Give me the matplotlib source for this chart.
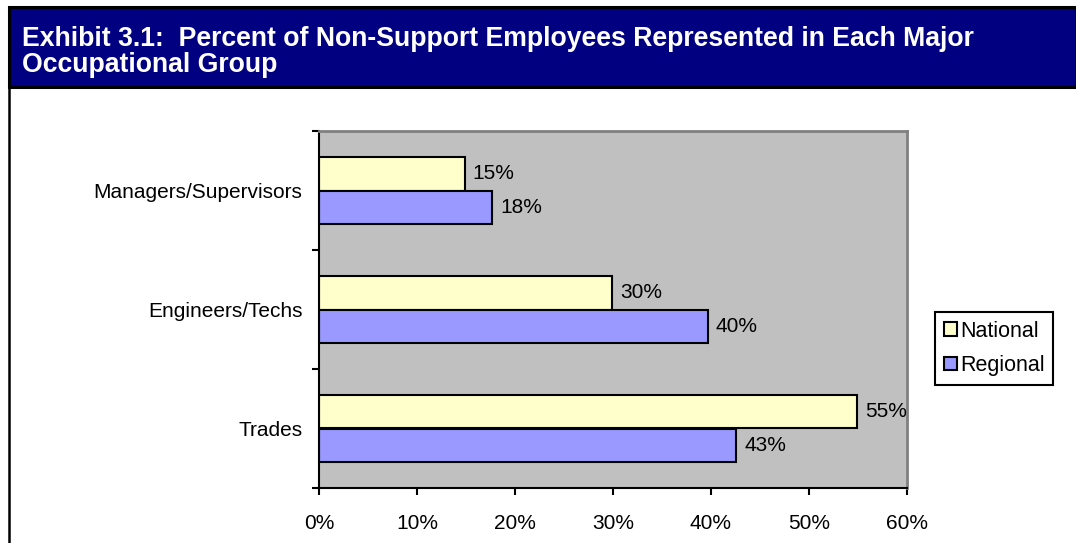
import matplotlib.pyplot as plt
from matplotlib.patches import Rectangle
from matplotlib.lines import Line2D
import numpy as np

plt.rcParams['font.family'] = ['Liberation Sans', 'DejaVu Sans']

# Share of non-support employees by group
groups = ['Managers/Supervisors', 'Engineers/Techs', 'Trades']
national = [0.149, 0.299, 0.549]
regional = [0.177, 0.397, 0.426]
series_names = ['National', 'Regional']
xticks = [0, 0.1, 0.2, 0.3, 0.4, 0.5, 0.6]

W, H = 1076, 543
fig = plt.figure(figsize=(W / 100, H / 100), dpi=100)

# title banner and frame
fig.patches.append(Rectangle((8.5 / W, (H - 86.5) / H), 1 - 8.5 / W, 80 / H,
                             transform=fig.transFigure, facecolor='#000080',
                             edgecolor='black', linewidth=2.2))
fig.lines.append(Line2D([8.5 / W, 8.5 / W], [0, (H - 86.5) / H],
                        transform=fig.transFigure, color='black', linewidth=1.8))
fig.text(22 / W, (H - 52) / H,
         'Exhibit 3.1:  Percent of Non-Support Employees Represented in Each Major\nOccupational Group',
         color='white', fontsize=19.2, fontweight='bold', va='center', ha='left',
         linespacing=1.03)

ax = fig.add_axes([319 / W, (H - 488) / H, (907 - 319) / W, (488 - 131) / H])
ax.set_facecolor('#C0C0C0')

y = np.arange(len(groups))
bh = 0.28
b1 = ax.barh(y - bh / 2, national, height=bh, color='#FFFFCC', edgecolor='black',
             linewidth=1.5, label=series_names[0])
b2 = ax.barh(y + bh / 2, regional, height=bh, color='#9999FF', edgecolor='black',
             linewidth=1.5, label=series_names[1])

for bars, vals in ((b1, national), (b2, regional)):
    for rect, v in zip(bars, vals):
        ax.text(v + 0.008, rect.get_y() + rect.get_height() / 2, f'{v:.0%}',
                va='center', ha='left', fontsize=15, clip_on=False)

ax.set_xlim(0, 0.6)
ax.set_ylim(len(groups) - 0.5, -0.5)
ax.set_xticks(xticks)
ax.set_xticklabels([f'{t:.0%}' for t in xticks], fontsize=15)
ax.tick_params(axis='x', direction='out', length=5, width=1.5, pad=13.5)

ax.set_yticks(y)
ax.set_yticklabels(groups, fontsize=15)
ax.tick_params(axis='y', which='major', length=0, pad=12)
ax.set_yticks(np.arange(len(groups) + 1) - 0.5, minor=True)
ax.tick_params(axis='y', which='minor', direction='out', length=5, width=1.5)

for side in ('left', 'bottom'):
    ax.spines[side].set_color('black')
    ax.spines[side].set_linewidth(1.5)
for side in ('right', 'top'):
    ax.spines[side].set_color('#808080')
    ax.spines[side].set_linewidth(2)

leg = fig.legend(handles=[b1, b2], loc='upper left',
                 bbox_to_anchor=(935 / W, (H - 312) / H), fontsize=15.5,
                 fancybox=False, edgecolor='black', framealpha=1,
                 handlelength=0.6, handleheight=0.6, handletextpad=0.15,
                 borderpad=0.4, labelspacing=0.62, borderaxespad=0)
leg.get_frame().set_linewidth(1.5)

fig.savefig('out.png', dpi=100)
